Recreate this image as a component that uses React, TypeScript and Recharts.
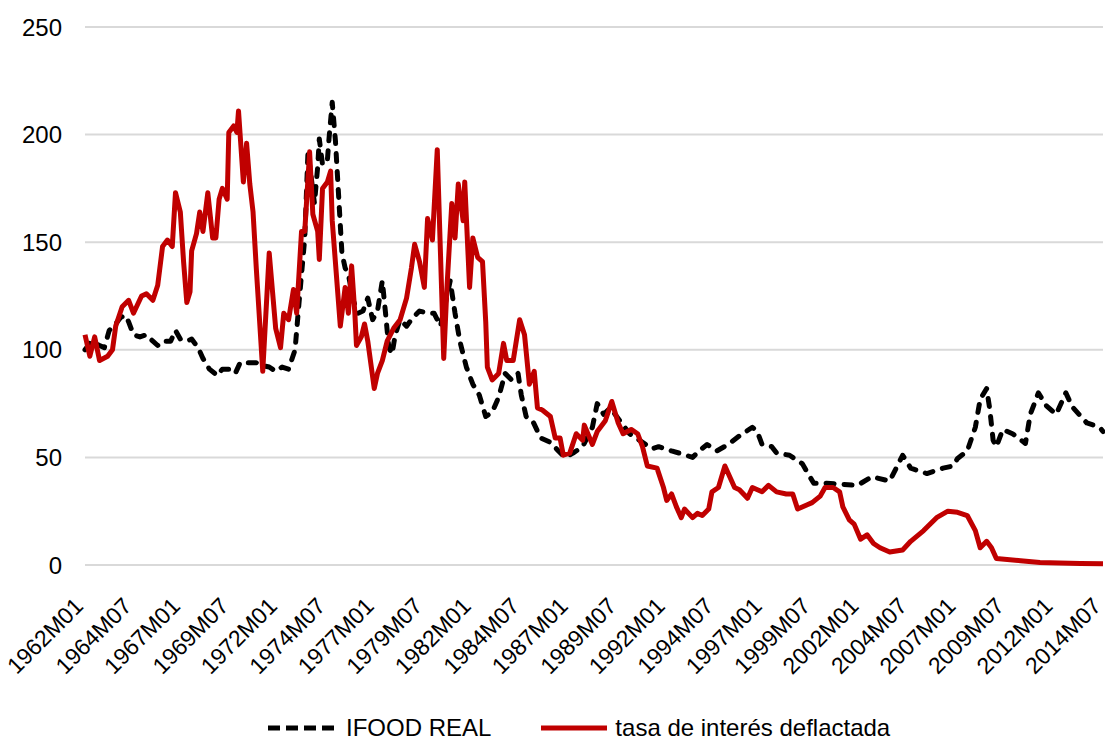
import React from "react"
import { LineChart, Line, XAxis, YAxis, CartesianGrid, Legend } from "recharts"

// x = months since 1962M01, y = index value
const tickLabels = [
  "1962M01", "1964M07", "1967M01", "1969M07", "1972M01", "1974M07", "1977M01",
  "1979M07", "1982M01", "1984M07", "1987M01", "1989M07", "1992M01", "1994M07",
  "1997M01", "1999M07", "2002M01", "2004M07", "2007M01", "2009M07", "2012M01", "2014M07",
]
const tickMonths = [0, 30, 60, 90, 120, 150, 180, 210, 240, 270, 300, 330, 360, 390, 420, 450, 480, 510, 540, 570, 600, 630]
const yTicks = [0, 50, 100, 150, 200, 250]

const ifoodReal: [number, number][] = [
  [0, 100], [4, 104], [9, 102], [12, 101], [15, 109], [19, 112], [22, 115], [25, 116], [27, 113],
  [30, 107], [34, 106], [38, 107], [42, 104], [45, 102], [48, 104], [53, 104], [56, 109], [59, 105],
  [63, 104], [66, 105], [70, 101], [73, 96], [77, 91], [82, 88], [85, 91], [89, 91], [93, 89],
  [96, 94], [102, 94], [106, 94], [108, 93], [114, 92], [118, 90], [122, 92], [126, 91], [130, 100],
  [132, 118], [134, 135], [136, 152], [138, 192], [140, 180], [142, 168], [144, 185], [145, 198],
  [147, 186], [150, 188], [151, 198], [153, 215], [155, 197], [157, 171], [159, 145], [161, 138],
  [163, 135], [166, 123], [169, 117], [172, 118], [175, 124], [178, 114], [181, 118], [184, 132],
  [186, 117], [188, 101], [190, 98], [192, 107], [195, 114], [199, 111], [203, 115], [207, 118],
  [212, 117], [216, 117], [220, 111], [226, 132], [229, 117], [232, 104], [236, 92], [240, 84],
  [244, 79], [248, 69], [252, 71], [256, 78], [260, 89], [264, 86], [268, 89], [270, 79], [273, 69],
  [277, 67], [282, 59], [288, 57], [293, 53], [297, 50], [302, 52], [308, 55], [314, 64], [317, 75],
  [321, 70], [325, 73], [331, 67], [337, 61], [343, 58], [351, 54], [355, 55], [363, 53], [370, 51.5],
  [376, 50], [380, 53], [385, 56], [391, 53], [398, 56], [405, 60], [413, 64], [416, 62], [419, 56],
  [425, 55], [428, 52], [436, 51], [444, 47], [447, 43], [451, 38], [459, 38], [467, 37.6], [478, 37],
  [487, 41], [498, 39], [506, 51], [511, 45], [521, 42.5], [531, 45], [537, 46], [540, 49.5],
  [546, 53], [551, 64], [554, 77], [558, 82], [560, 72], [562, 58], [564, 55], [568, 63], [574, 61],
  [582, 56.5], [585, 70], [590, 80], [595, 74], [601, 70], [607, 80], [611, 73.5], [620, 66],
  [628, 64], [630, 62],
]

const tasaDeflactada: [number, number][] = [
  [0, 107], [3, 97], [6, 106], [9, 95], [14, 97], [17, 100], [19, 111], [23, 120], [27, 123],
  [30, 117], [35, 125], [38, 126], [42, 123], [45, 130], [48, 148], [51, 151], [54, 148], [56, 173],
  [59, 164], [61, 141], [63, 122], [65, 127], [66, 146], [69, 154], [71, 164], [73, 155], [76, 173],
  [79, 152], [81, 152], [83, 170], [85, 175], [88, 170], [89, 201], [92, 204], [94, 201], [95, 211],
  [98, 178], [100, 196], [102, 177], [104, 164], [106, 138], [110, 90], [114, 145], [118, 110],
  [121, 101], [123, 117], [126, 114], [129, 128], [131, 117], [134, 155], [136, 155], [139, 192],
  [141, 163], [144, 155], [145, 142], [147, 175], [150, 178], [152, 183], [153, 160], [158, 111],
  [161, 129], [163, 117], [165, 139], [167, 117], [168, 102], [171, 106], [173, 112], [175, 104],
  [179, 82], [181, 89], [184, 95], [187, 104], [191, 110], [195, 114], [199, 124], [202, 138],
  [204, 149], [207, 141], [210, 129], [212, 161], [215, 151], [218, 193], [222, 96], [224, 129],
  [227, 168], [229, 152], [231, 177], [234, 160], [235, 178], [238, 129], [240, 152], [243, 143],
  [246, 141], [248, 113], [249, 92], [252, 86], [256, 89], [259, 103], [261, 95], [265, 95],
  [269, 114], [272, 107], [275, 84], [278, 90], [280, 73], [283, 72], [288, 69], [291, 59], [294, 59],
  [296, 51], [300, 52], [304, 61], [308, 58], [309, 65], [314, 56], [317, 62], [322, 67], [326, 76],
  [330, 66], [333, 61], [338, 63], [342, 61], [345, 55], [348, 46], [354, 45], [358, 36], [360, 30],
  [363, 33], [366, 27], [369, 22], [371, 26], [376, 22], [379, 24], [382, 23], [386, 26], [388, 34],
  [392, 36], [394, 41], [396, 46], [399, 41], [402, 36], [405, 35], [410, 31], [413, 36], [419, 34],
  [423, 37], [428, 34], [434, 33], [438, 33], [441, 26], [447, 28], [450, 29], [455, 32], [458, 36],
  [463, 36], [467, 34], [469, 27], [473, 21], [476, 19], [480, 12], [484, 14], [488, 10], [492, 8],
  [498, 6], [506, 7], [511, 11], [519, 16], [527, 22], [534, 25], [540, 24.5], [546, 23], [551, 16],
  [554, 8], [558, 11], [561, 8], [564, 3], [579, 2], [591, 1.2], [603, 0.9], [616, 0.7], [630, 0.6],
]

const foodData = ifoodReal.map(([m, v]) => ({ m, v }))
const tasaData = tasaDeflactada.map(([m, v]) => ({ m, v }))

const FONT = "'Liberation Sans', Arial, sans-serif"

function ChartLegend() {
  return (
    <div style={{ display: "flex", alignItems: "center", height: 24, paddingLeft: 266, fontFamily: FONT, fontSize: 24, color: "#000", whiteSpace: "nowrap" }}>
      <svg width={72} height={10} style={{ marginRight: 8 }}>
        <line x1={2} y1={5} x2={70} y2={5} stroke="#000" strokeWidth={5} strokeDasharray="12 6" />
      </svg>
      <span style={{ marginRight: 48 }}>IFOOD REAL</span>
      <svg width={70} height={10} style={{ marginRight: 6 }}>
        <line x1={2} y1={5} x2={68} y2={5} stroke="#c00000" strokeWidth={5} />
      </svg>
      <span>tasa de interés deflactada</span>
    </div>
  )
}

export default function App() {
  return (
    <div style={{ position: "absolute", left: 0, top: 0, background: "#fff" }}>
      <LineChart width={1105} height={740} margin={{ top: 27, right: 2, left: 0, bottom: 0 }}>
        <CartesianGrid horizontal vertical={false} stroke="#d9d9d9" strokeWidth={2} />
        <XAxis
          dataKey="m"
          type="number"
          domain={[0, 630]}
          ticks={tickMonths}
          tickFormatter={(m: number) => tickLabels[tickMonths.indexOf(m)]}
          interval={0}
          angle={-45}
          textAnchor="end"
          axisLine={false}
          tickLine={false}
          tickMargin={25}
          height={151}
          tick={{ fill: "#000", fontSize: 23, fontFamily: FONT, dx: -12 }}
        />
        <YAxis
          domain={[0, 250]}
          ticks={yTicks}
          width={85}
          axisLine={false}
          tickLine={false}
          tickMargin={17}
          tick={{ fill: "#000", fontSize: 24, fontFamily: FONT }}
        />
        <Legend verticalAlign="bottom" content={() => <ChartLegend />} />
        <Line data={foodData} dataKey="v" name="IFOOD REAL" stroke="#000" strokeWidth={5} strokeDasharray="8 10" strokeLinecap="round" strokeLinejoin="round" dot={false} isAnimationActive={false} />
        <Line data={tasaData} dataKey="v" name="tasa de interés deflactada" stroke="#c00000" strokeWidth={5} strokeLinejoin="round" dot={false} isAnimationActive={false} />
      </LineChart>
    </div>
  )
}
